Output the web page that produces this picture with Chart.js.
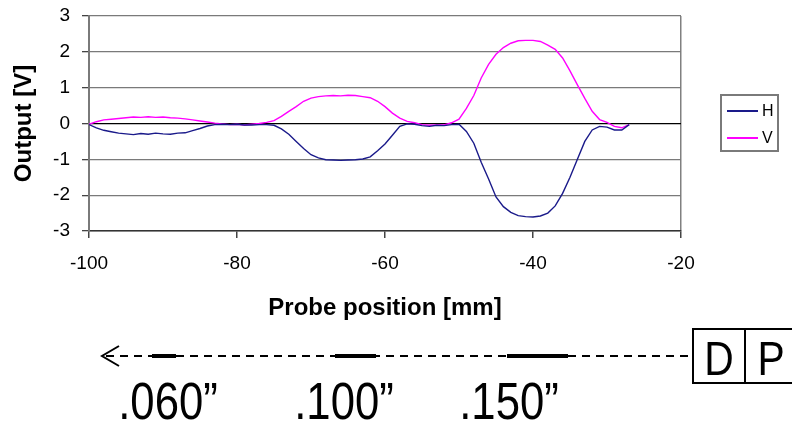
<!DOCTYPE html>
<html><head><meta charset="utf-8">
<script src="https://cdn.jsdelivr.net/npm/chart.js@4"></script>
<style>html,body{margin:0;padding:0;background:#fff}canvas{display:block}</style>
</head><body>
<canvas id="c" width="792" height="421"></canvas>
<script>
const positions = [-100,-99,-98,-97,-96,-95,-94,-93,-92,-91,-90,-89,-88,-87,-86,-85,-84,-83,-82,-81,-80,-79,-78,-77,-76,-75,-74,-73,-72,-71,-70,-69,-68,-67,-66,-65,-64,-63,-62,-61,-60,-59,-58,-57,-56,-55,-54,-53,-52,-51,-50,-49,-48,-47,-46,-45,-44,-43,-42,-41,-40,-39,-38,-37,-36,-35,-34,-33,-32,-31,-30,-29,-28,-27];
const hValues = [-0.03,-0.12,-0.19,-0.23,-0.27,-0.29,-0.31,-0.28,-0.30,-0.27,-0.29,-0.30,-0.27,-0.26,-0.20,-0.14,-0.07,-0.03,-0.02,-0.03,-0.02,-0.04,-0.04,-0.03,-0.03,-0.05,-0.15,-0.30,-0.50,-0.70,-0.87,-0.96,-1.01,-1.02,-1.03,-1.02,-1.01,-0.99,-0.93,-0.76,-0.57,-0.33,-0.08,-0.01,-0.02,-0.06,-0.08,-0.05,-0.06,-0.03,-0.02,-0.22,-0.55,-1.08,-1.55,-2.05,-2.32,-2.48,-2.57,-2.60,-2.61,-2.58,-2.50,-2.30,-1.95,-1.50,-1.00,-0.50,-0.18,-0.08,-0.10,-0.18,-0.18,-0.03];
const vValues = [-0.02,0.05,0.10,0.12,0.14,0.16,0.18,0.17,0.19,0.17,0.18,0.16,0.15,0.13,0.10,0.07,0.04,0.01,-0.01,-0.03,-0.02,-0.04,-0.02,0.00,0.03,0.08,0.20,0.34,0.47,0.62,0.71,0.75,0.77,0.78,0.77,0.79,0.78,0.75,0.72,0.62,0.47,0.29,0.15,0.06,0.02,-0.03,-0.05,-0.04,-0.04,0.02,0.12,0.42,0.78,1.27,1.65,1.93,2.12,2.24,2.31,2.32,2.32,2.29,2.19,2.07,1.83,1.47,1.08,0.70,0.34,0.11,0.03,-0.08,-0.12,-0.03];
const xTicks = [-100,-80,-60,-40,-20];
const yTicks = [-3,-2,-1,0,1,2,3];
const seriesNames = ['H','V'];
const seriesColors = ['#1a1a8a','#ff00ff'];
const sizeLabels = ['.060\u201D','.100\u201D','.150\u201D'];
const boxLetters = ['D','P'];

const FONT = "'Liberation Sans', Arial, sans-serif";

function pts(vals){ return positions.map((x,i)=>({x:x,y:vals[i]})); }

const legendPlugin = {
  id:'customLegend',
  afterDraw(chart){
    const ctx = chart.ctx;
    ctx.save();
    ctx.strokeStyle = '#7a7a7a'; ctx.lineWidth = 2;
    ctx.strokeRect(721,95,57,56);
    const ys = [111,138];
    chart.data.datasets.forEach((ds,i)=>{
      ctx.strokeStyle = ds.borderColor; ctx.lineWidth = 2;
      ctx.beginPath(); ctx.moveTo(727,ys[i]); ctx.lineTo(758,ys[i]); ctx.stroke();
      ctx.fillStyle = '#000'; ctx.font = '16px ' + FONT;
      ctx.textBaseline = 'middle'; ctx.textAlign = 'left';
      ctx.fillText(ds.label, 762, ys[i]+1);
    });
    ctx.restore();
  }
};

const annotationPlugin = {
  id:'probeDiagram',
  afterDraw(chart){
    const ctx = chart.ctx;
    ctx.save();
    const y = 356;
    ctx.strokeStyle = '#000';
    ctx.lineWidth = 2;
    ctx.setLineDash([8,6]);
    ctx.beginPath(); ctx.moveTo(106,y); ctx.lineTo(693,y); ctx.stroke();
    ctx.setLineDash([]);
    ctx.beginPath(); ctx.moveTo(119,346); ctx.lineTo(102,y); ctx.lineTo(119,366); ctx.stroke();
    ctx.lineWidth = 4;
    [[152,176],[335,376],[507,568]].forEach(b=>{
      ctx.beginPath(); ctx.moveTo(b[0],y); ctx.lineTo(b[1],y); ctx.stroke();
    });
    ctx.lineWidth = 2;
    ctx.strokeRect(693,329,52,54);
    ctx.strokeRect(745,329,60,54);
    ctx.fillStyle = '#000';
    ctx.textAlign = 'center'; ctx.textBaseline = 'alphabetic';
    const letterX = [719,771];
    boxLetters.forEach((t,i)=>{
      ctx.save(); ctx.translate(letterX[i],375); ctx.scale(0.85,1);
      ctx.font = '48px ' + FONT; ctx.fillText(t,0,0); ctx.restore();
    });
    const labelX = [168,344,509];
    sizeLabels.forEach((t,i)=>{
      ctx.save(); ctx.translate(labelX[i],419); ctx.scale(0.84,1);
      ctx.font = '52px ' + FONT; ctx.fillText(t,0,0); ctx.restore();
    });
    ctx.restore();
  }
};

new Chart(document.getElementById('c'), {
  type:'line',
  data:{
    datasets:[
      {label:seriesNames[0], data:pts(hValues), borderColor:seriesColors[0], borderWidth:1.4, pointRadius:0, tension:0},
      {label:seriesNames[1], data:pts(vValues), borderColor:seriesColors[1], borderWidth:1.4, pointRadius:0, tension:0}
    ]
  },
  options:{
    animation:false, responsive:false, devicePixelRatio:1,
    layout:{padding:{left:10,right:111,top:16,bottom:98}},
    plugins:{legend:{display:false}, tooltip:{enabled:false}},
    scales:{
      x:{
        type:'linear', min:-100, max:-20,
        afterBuildTicks(s){ s.ticks = xTicks.map(v=>({value:v})); },
        ticks:{font:{size:19,family:FONT}, color:'#000', padding:14, maxRotation:0},
        grid:{drawOnChartArea:true, color:c=> (c.tick && c.tick.value===-20) ? '#808080' : 'rgba(0,0,0,0)', tickColor:'#444', tickLength:7, lineWidth:1.5},
        border:{color:'#333', width:1.5},
        title:{display:true, text:'Probe position [mm]', font:{size:24, weight:'bold', family:FONT}, color:'#000', padding:{top:0,bottom:0}},
        afterFit(s){ s.height = 92; }
      },
      y:{
        type:'linear', min:-3, max:3,
        afterBuildTicks(s){ s.ticks = yTicks.map(v=>({value:v})); },
        ticks:{font:{size:19,family:FONT}, color:'#000', padding:12},
        grid:{color:c=> (c.tick && c.tick.value===0) ? '#000' : '#7a7a7a', tickColor:'#444', tickLength:7, lineWidth:1.3},
        border:{color:'#7a7a7a', width:2},
        title:{display:true, text:'Output [V]', font:{size:24, weight:'bold', family:FONT}, color:'#000', padding:0},
        afterFit(s){ s.width = 79; s.paddingTop = 0; s.paddingBottom = 0; }
      }
    }
  },
  plugins:[legendPlugin, annotationPlugin]
});
</script>
</body></html>
